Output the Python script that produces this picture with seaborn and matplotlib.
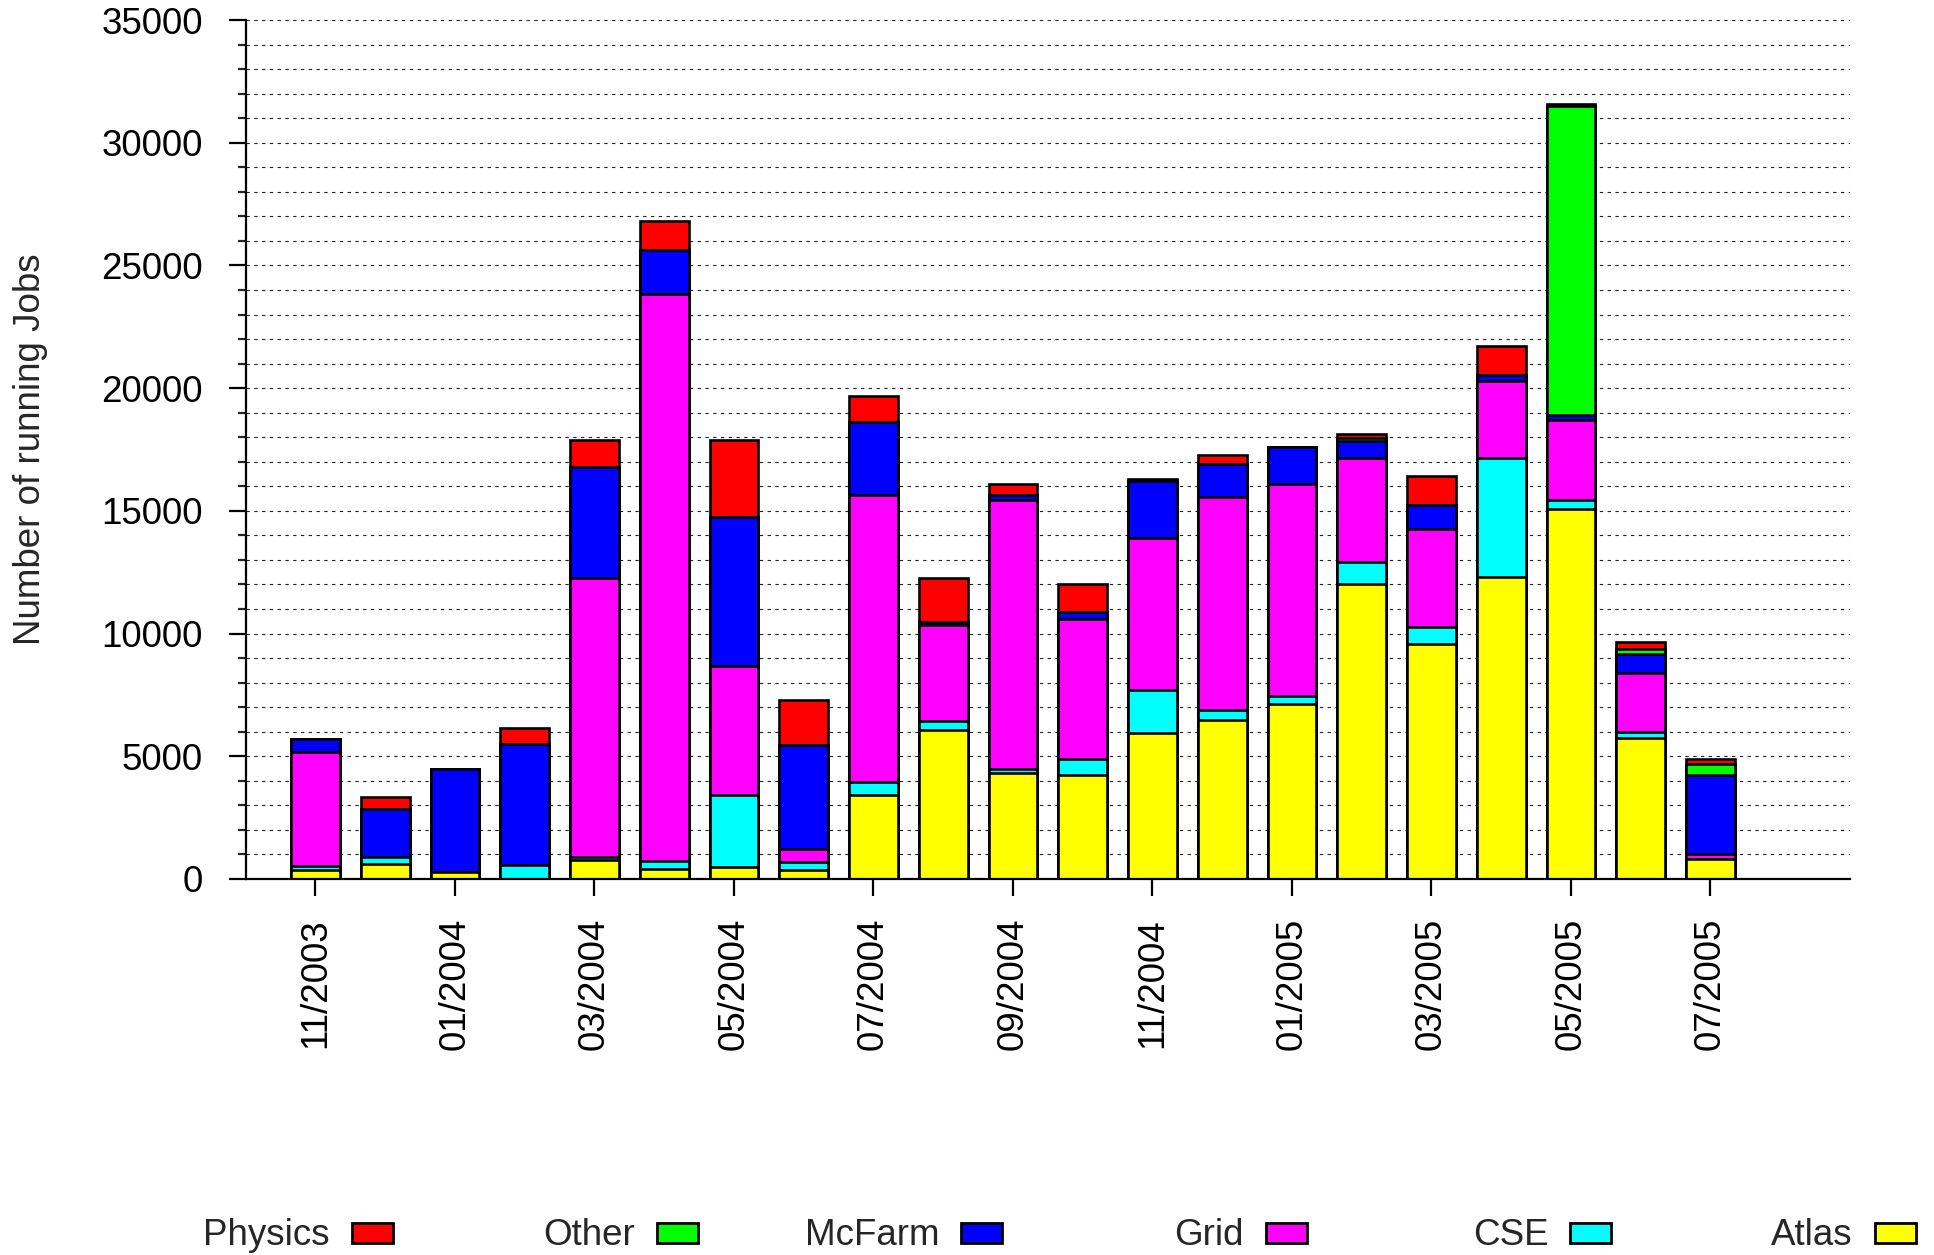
import pandas as pd
import seaborn as sns
from matplotlib import pyplot as plt
from matplotlib.patches import Rectangle
from matplotlib.ticker import MultipleLocator


MONTHS = [
    "11/2003", "12/2003",
    "01/2004", "02/2004", "03/2004", "04/2004", "05/2004", "06/2004",
    "07/2004", "08/2004", "09/2004", "10/2004", "11/2004", "12/2004",
    "01/2005", "02/2005", "03/2005", "04/2005", "05/2005", "06/2005", "07/2005",
]

# running jobs per group
ATLAS = [360, 630, 280, 0, 770, 400, 470, 375, 3440, 6090, 4310,
         4220, 5930, 6490, 7140, 12040, 9560, 12300, 15080, 5760, 800]
CSE = [150, 260, 0, 590, 120, 350, 2950, 300, 520, 350, 190,
       650, 1770, 400, 330, 860, 720, 4840, 350, 240, 0]
GRID = [4650, 0, 0, 0, 11360, 23090, 5270, 540, 11680, 3890, 10930,
        5740, 6190, 8660, 8620, 4270, 3980, 3140, 3260, 2380, 230]
MCFARM = [550, 1970, 4220, 4910, 4540, 1780, 6060, 4260, 2980, 160, 210,
          260, 2320, 1360, 1500, 680, 960, 240, 230, 800, 3190]
OTHER = [0, 0, 0, 0, 0, 0, 0, 0, 0, 0, 0,
         0, 0, 0, 0, 110, 0, 0, 12580, 210, 460]
PHYSICS = [0, 470, 0, 640, 1100, 1190, 3140, 1800, 1080, 1760, 450,
           1140, 80, 370, 0, 190, 1220, 1210, 60, 280, 190]

SERIES = ["Atlas", "CSE", "Grid", "McFarm", "Other", "Physics"]
LEGEND_ORDER = ["Physics", "Other", "McFarm", "Grid", "CSE", "Atlas"]
COLORS = {
    "Atlas": "#ffff00",
    "CSE": "#00ffff",
    "Grid": "#ff00ff",
    "McFarm": "#0000ff",
    "Other": "#00ff00",
    "Physics": "#ff0000",
}

W, H = 1934, 1255
FONT_SIZE = 26.5


def build_frame() -> pd.DataFrame:
    df = pd.DataFrame(
        {
            "Atlas": ATLAS,
            "CSE": CSE,
            "Grid": GRID,
            "McFarm": MCFARM,
            "Other": OTHER,
            "Physics": PHYSICS,
        }
    )
    cum = df[SERIES].cumsum(axis=1)
    cum.insert(0, "month", MONTHS)
    return cum


def draw_legend(fig) -> None:
    # gnuplot-like key: label right-aligned, colour box to its right
    for i, name in enumerate(LEGEND_ORDER):
        box_left = 352 + i * 304.6
        fig.patches.append(
            Rectangle(
                (box_left / W, 1 - 1243 / H),
                41 / W,
                20 / H,
                transform=fig.transFigure,
                facecolor=COLORS[name],
                edgecolor="black",
                linewidth=2,
            )
        )
        fig.text(
            (box_left - 22) / W,
            1 - 1245 / H,
            name,
            ha="right",
            va="baseline",
            fontsize=FONT_SIZE,
        )


def main() -> None:
    sns.set_theme(style="ticks")
    plt.rcParams["font.family"] = ["Liberation Sans", "DejaVu Sans"]

    fig = plt.figure(figsize=(W / 100, H / 100), dpi=100)
    ax = fig.add_axes([245.7 / W, 1 - 879 / H, (1850 - 245.7) / W, (879 - 20) / H])

    cum = build_frame()
    for name in reversed(SERIES):
        sns.barplot(
            data=cum,
            x="month",
            y=name,
            order=MONTHS,
            color=COLORS[name],
            saturation=1,
            width=0.7,
            edgecolor="black",
            linewidth=1.9,
            errorbar=None,
            ax=ax,
        )

    ax.set_xlim(-1, 22)
    ax.set_ylim(0, 35000)
    ax.set_xticks(range(0, len(MONTHS), 2))
    ax.set_xticklabels(MONTHS[::2], rotation=90)
    ax.set_yticks(range(0, 35001, 5000))
    ax.yaxis.set_minor_locator(MultipleLocator(1000))

    ax.set_axisbelow(True)
    ax.grid(axis="y", which="both", color="#222222", linestyle=(0, (3, 4)), linewidth=0.8)
    ax.grid(axis="x", visible=False)

    ax.tick_params(axis="x", which="major", direction="out", length=12, width=1.6,
                   pad=16, labelsize=FONT_SIZE, colors="black")
    ax.tick_params(axis="x", which="minor", bottom=False)
    ax.tick_params(axis="y", which="major", direction="out", length=12, width=1.6,
                   pad=19, labelsize=FONT_SIZE, colors="black")
    ax.tick_params(axis="y", which="minor", direction="out", length=6, width=1.6)

    sns.despine(ax=ax)
    for side in ["left", "bottom"]:
        ax.spines[side].set_linewidth(1.6)
        ax.spines[side].set_color("black")

    ax.set_xlabel("")
    ax.set_ylabel("Number of running Jobs", fontsize=FONT_SIZE)
    ax.yaxis.label.set_va("center")
    ax.yaxis.set_label_coords((31 - 245.7) / (1850 - 245.7), 0.5)

    draw_legend(fig)

    fig.savefig("out.png", dpi=100)
    plt.close(fig)


if __name__ == "__main__":
    main()
